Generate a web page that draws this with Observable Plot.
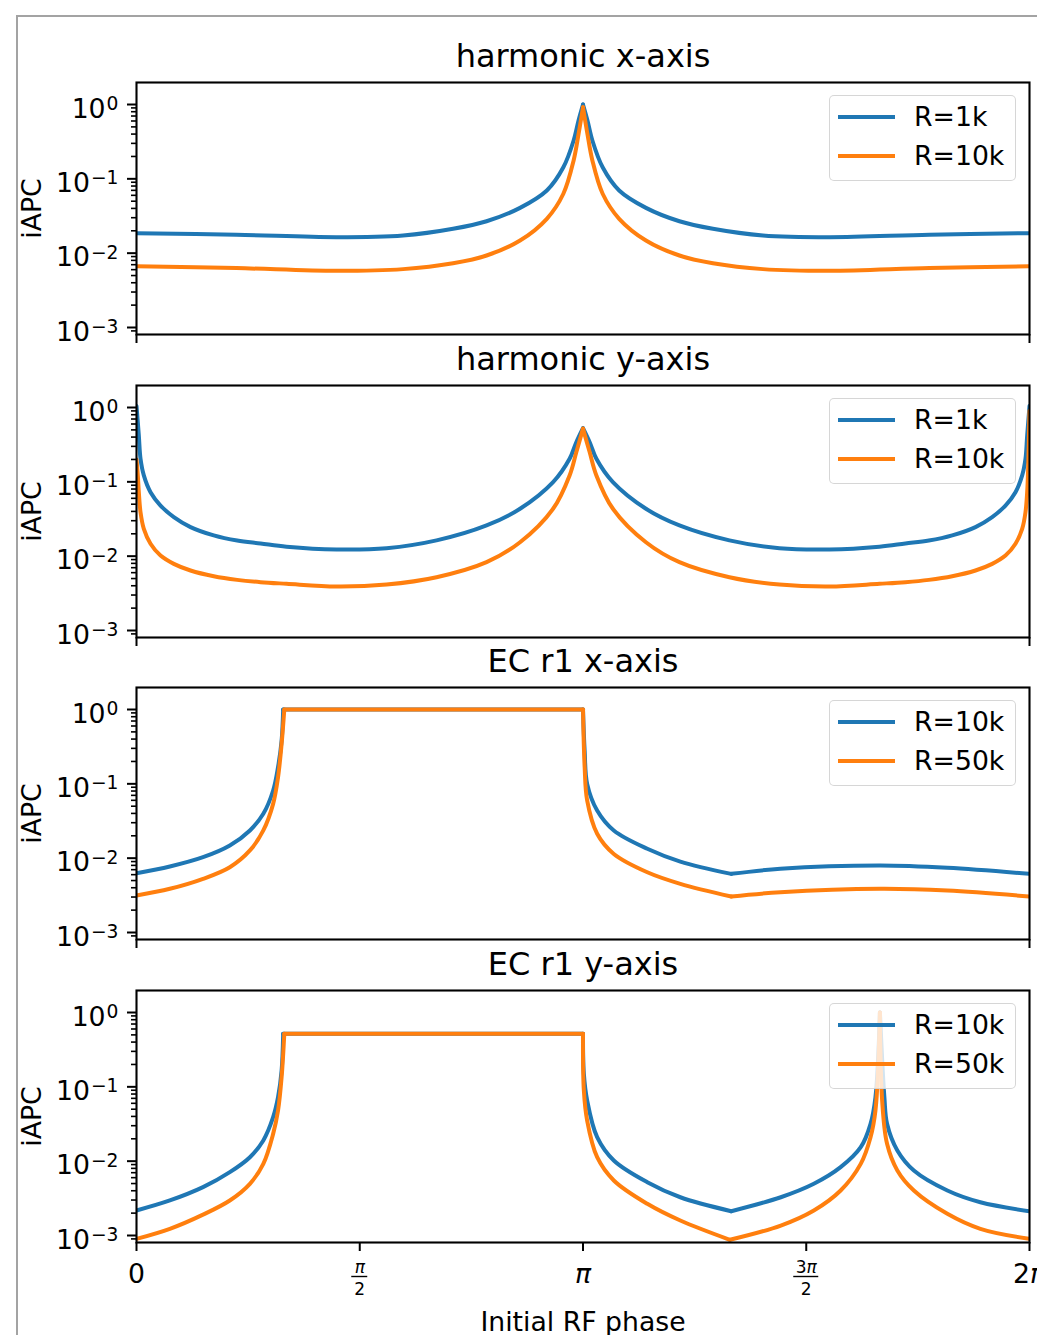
<!DOCTYPE html>
<html>
<head>
<meta charset="utf-8">
<script src="https://cdn.jsdelivr.net/npm/d3@7"></script>
<script src="https://cdn.jsdelivr.net/npm/@observablehq/plot@0.6"></script>
<style>
  html, body { margin: 0; padding: 0; background: #fff; }
  #fig { position: relative; width: 1037px; height: 1335px; overflow: hidden; background: #fff; font-family: "DejaVu Sans"; }
  #border { position: absolute; left: 16px; top: 15px; width: 1300px; height: 1600px; border-left: 2px solid #a3a3a3; border-top: 2px solid #a3a3a3; }
  .panel { position: absolute; left: 0; }
  .legend { position: absolute; left: 829px; width: 187px; height: 86px; box-sizing: border-box;
            border: 1.5px solid rgba(204,204,204,0.8); border-radius: 5px; background: rgba(255,255,255,0.8); }
  .row { position: absolute; left: 0; width: 100%; height: 30px; }
  .swatch { position: absolute; left: 8px; top: 13px; width: 57px; height: 4px; }
  .lab { position: absolute; left: 84px; top: 0; height: 30px; line-height: 30px; font-size: 26.7px; color: #000; white-space: nowrap; }
</style>
</head>
<body>
<div id="fig"><div id="border"></div></div>
<script>
// ---------- data (x in units of π, y = iAPC) ----------
const xTicks = [0, 0.5, 1, 1.5, 2];
const xTickPlain = [{v: 0, t: "0"}, {v: 1, t: "π"}, {v: 2, t: "2π"}];
const xTickFrac = [{v: 0.5, num: "π", den: "2"}, {v: 1.5, num: "3π", den: "2"}];
const yMajor = [1, 0.1, 0.01, 0.001];
const yMajorExp = ["0", "−1", "−2", "−3"];
const yMinor = [0.0009, 0.002, 0.003, 0.004, 0.005, 0.006, 0.007, 0.008, 0.009,
                0.02, 0.03, 0.04, 0.05, 0.06, 0.07, 0.08, 0.09,
                0.2, 0.3, 0.4, 0.5, 0.6, 0.7, 0.8, 0.9];
const yDomain = [0.000805, 1.977];

const titles = ["harmonic x-axis", "harmonic y-axis", "EC r1 x-axis", "EC r1 y-axis"];
const legendLabels = [["R=1k", "R=10k"], ["R=1k", "R=10k"], ["R=10k", "R=50k"], ["R=10k", "R=50k"]];

// harmonic x-axis
const hxR1k = [
  [[0,0.0186],[0.224,0.0177],[0.448,0.0164],[0.597,0.0173],[0.709,0.0213],[0.784,0.0269],[0.859,0.0407],[0.919,0.0697],[0.956,0.143],[0.979,0.328],[0.990,0.61],[1,1.0]],
  [[1,1.0],[1.010,0.61],[1.021,0.328],[1.044,0.143],[1.081,0.0697],[1.141,0.0407],[1.216,0.0269],[1.291,0.0213],[1.403,0.0173],[1.552,0.0164],[1.776,0.0177],[2,0.0186]]
];
const hxR10k = [
  [[0,0.00668],[0.224,0.0063],[0.448,0.00578],[0.597,0.0061],[0.709,0.00733],[0.784,0.0093],[0.859,0.0148],[0.919,0.029],[0.956,0.063],[0.979,0.177],[0.990,0.40],[1,0.92]],
  [[1,0.92],[1.010,0.40],[1.021,0.177],[1.044,0.063],[1.081,0.029],[1.141,0.0148],[1.216,0.0093],[1.291,0.00733],[1.403,0.0061],[1.552,0.00578],[1.776,0.0063],[2,0.00668]]
];
// harmonic y-axis
const hyR1k = [
  [[0,1.05],[0.0052,0.42],[0.009,0.204],[0.0164,0.122],[0.0314,0.0726],[0.0538,0.048],[0.0836,0.0335],[0.121,0.0246],[0.173,0.019],[0.2255,0.0162],[0.278,0.0148],[0.336,0.0134],[0.448,0.0123],[0.560,0.0128],[0.672,0.0163],[0.784,0.0259],[0.859,0.0434],[0.933,0.099],[0.970,0.204],[0.985,0.341],[1,0.527]],
  [[1,0.527],[1.015,0.341],[1.030,0.204],[1.067,0.099],[1.141,0.0434],[1.216,0.0259],[1.328,0.0163],[1.440,0.0128],[1.552,0.0123],[1.664,0.0134],[1.722,0.0148],[1.7745,0.0162],[1.827,0.019],[1.879,0.0246],[1.9164,0.0335],[1.9462,0.048],[1.9686,0.0726],[1.9836,0.122],[1.991,0.204],[1.9948,0.42],[2,1.05]]
];
const hyR10k = [
  [[0,0.2],[0.003,0.12],[0.0052,0.0726],[0.009,0.039],[0.0164,0.0233],[0.0314,0.0147],[0.0538,0.0102],[0.0836,0.00788],[0.121,0.00641],[0.173,0.00537],[0.2255,0.0048],[0.278,0.00447],[0.336,0.00425],[0.448,0.0039],[0.560,0.00415],[0.672,0.00521],[0.784,0.0083],[0.859,0.0154],[0.933,0.0434],[0.970,0.122],[0.985,0.25],[1,0.52]],
  [[1,0.52],[1.015,0.25],[1.030,0.122],[1.067,0.0434],[1.141,0.0154],[1.216,0.0083],[1.328,0.00521],[1.440,0.00415],[1.552,0.0039],[1.664,0.00425],[1.722,0.00447],[1.7745,0.0048],[1.827,0.00537],[1.879,0.00641],[1.9164,0.00788],[1.9462,0.0102],[1.9686,0.0147],[1.9836,0.0233],[1.991,0.039],[1.9948,0.0726],[1.997,0.15],[2,0.9]]
];
// EC r1 x-axis
const ecxR10k = [
  [[0,0.00628],[0.0747,0.00772],[0.149,0.0103],[0.209,0.0148],[0.254,0.0236],[0.284,0.0395],[0.306,0.0813],[0.317,0.168],[0.325,0.383],[0.3285,1.0]],
  [[0.3285,1.0],[1,1.0]],
  [[1,1.0],[1.0037,0.28],[1.0093,0.1],[1.0317,0.0438],[1.069,0.0236],[1.144,0.0134],[1.218,0.009],[1.332,0.00615]],
  [[1.332,0.00615],[1.442,0.0072],[1.666,0.00797],[1.816,0.00742],[2,0.00615]]
];
const ecxR50k = [
  [[0,0.00315],[0.0747,0.00387],[0.149,0.00527],[0.209,0.00755],[0.254,0.0127],[0.284,0.0236],[0.306,0.0538],[0.317,0.123],[0.325,0.346],[0.331,1.0]],
  [[0.331,1.0],[1,1.0]],
  [[1,1.0],[1.0037,0.168],[1.0093,0.0597],[1.0317,0.0213],[1.069,0.0114],[1.144,0.00647],[1.218,0.00452],[1.332,0.00305]],
  [[1.332,0.00305],[1.442,0.00348],[1.666,0.00387],[1.816,0.00367],[2,0.00305]]
];
// EC r1 y-axis
const ecyR10k = [
  [[0,0.00217],[0.0747,0.00296],[0.149,0.00447],[0.209,0.00711],[0.254,0.0113],[0.284,0.019],[0.306,0.039],[0.317,0.0725],[0.325,0.166],[0.3285,0.516]],
  [[0.3285,0.516],[1,0.516]],
  [[1,0.516],[1.0019,0.15],[1.0093,0.0655],[1.0317,0.021],[1.069,0.0102],[1.144,0.00521],[1.218,0.00327],[1.332,0.00212]],
  [[1.332,0.00212],[1.443,0.00327],[1.517,0.00496],[1.577,0.0083],[1.622,0.0154],[1.644,0.0318],[1.655,0.0725],[1.665,1.0]],
  [[1.665,1.0],[1.675,0.0725],[1.681,0.0318],[1.704,0.0139],[1.741,0.00748],[1.816,0.00403],[1.890,0.0028],[2,0.00212]]
];
const ecyR50k = [
  [[0,0.0009],[0.0747,0.00123],[0.149,0.00191],[0.209,0.00296],[0.254,0.00496],[0.284,0.0092],[0.306,0.0233],[0.317,0.048],[0.325,0.135],[0.331,0.516]],
  [[0.331,0.516],[1,0.516]],
  [[1,0.516],[1.0019,0.0893],[1.0093,0.0352],[1.0317,0.0113],[1.069,0.0055],[1.144,0.00267],[1.218,0.00159],[1.329,0.000875]],
  [[1.329,0.000875],[1.443,0.00136],[1.517,0.00217],[1.577,0.00403],[1.622,0.0092],[1.644,0.021],[1.655,0.048],[1.665,1.0]],
  [[1.665,1.0],[1.670,0.0655],[1.681,0.0171],[1.704,0.0075],[1.741,0.00403],[1.816,0.00196],[1.890,0.00123],[2,0.0009]]
];

const seriesByPanel = [[hxR1k, hxR10k], [hyR1k, hyR10k], [ecxR10k, ecxR50k], [ecyR10k, ecyR50k]];

// ---------- styling / layout ----------
const colors = ["#1f77b4", "#ff7f0e"];
const frameTops = [82, 385, 687, 990];
const frameH = 252, mTop = 50, mLeft = 136, mRight = 8;
const FS = 26.7;

function toRows(branches) {
  const rows = [];
  branches.forEach((b, bi) => b.forEach(([x, y]) => rows.push({x, y, z: bi})));
  return rows;
}

function decorate(svg) {
  const s = d3.select(svg);
  s.selectAll('g[aria-label="y-axis tick label"] text').each(function () {
    const e = this.textContent;
    if (!e) return;
    const t = d3.select(this).attr("dy", null).text(null);
    t.append("tspan").attr("dy", 4.5).text("10");
    t.append("tspan").attr("dy", -7.6).attr("dx", 1).attr("font-size", 18.7).text(e);
  });
  s.selectAll("text").each(function () {
    if (this.querySelector("tspan")) return;
    const str = this.textContent;
    if (!str.includes("π")) return;
    const t = d3.select(this).text(null);
    for (const part of str.split(/(π)/)) {
      if (!part) continue;
      const sp = t.append("tspan").text(part);
      if (part === "π") sp.attr("font-style", "italic");
    }
  });
}

const fig = document.getElementById("fig");

seriesByPanel.forEach((series, i) => {
  const last = i === 3;
  const mBottom = last ? 96 : 12;
  const marks = [
    Plot.axisY({ticks: yMinor, tickSize: 5, strokeWidth: 1.6, tickFormat: () => "", label: null}),
    Plot.axisY({ticks: yMajor, tickSize: 9, strokeWidth: 2, tickPadding: 9, fontSize: FS,
                tickFormat: d => yMajorExp[yMajor.indexOf(d)], label: null}),
    Plot.axisX({ticks: last ? xTicks : [xTicks[0], xTicks[4]], tickSize: 9, strokeWidth: 2,
                tickFormat: () => "", label: null})
  ];
  series.forEach((branches, si) => {
    marks.push(Plot.line(toRows(branches), {x: "x", y: "y", z: "z", stroke: colors[si], strokeWidth: 4,
                                             curve: "catmull-rom", clip: true}));
  });
  marks.push(Plot.frame({stroke: "black", strokeWidth: 2.1}));
  marks.push(Plot.text([titles[i]], {text: d => d, frameAnchor: "top", dy: -16, lineAnchor: "bottom", fontSize: 32}));
  marks.push(Plot.text(["iAPC"], {text: d => d, frameAnchor: "left", textAnchor: "middle", dx: -104, rotate: -90, fontSize: FS}));
  if (last) {
    marks.push(Plot.text(xTickPlain, {x: "v", text: "t", frameAnchor: "bottom", dy: 40, lineAnchor: "bottom", fontSize: FS}));
    marks.push(Plot.text(xTickFrac, {x: "v", text: "num", frameAnchor: "bottom", dy: 30.5, lineAnchor: "bottom", fontSize: 17}));
    marks.push(Plot.text(xTickFrac, {x: "v", text: "den", frameAnchor: "bottom", dy: 52, lineAnchor: "bottom", fontSize: 17}));
    marks.push(Plot.text(["Initial RF phase"], {text: d => d, frameAnchor: "bottom", dy: 88, lineAnchor: "bottom", fontSize: FS}));
  }
  const svg = Plot.plot({
    width: 1037,
    height: mTop + frameH + mBottom,
    marginTop: mTop, marginBottom: mBottom, marginLeft: mLeft, marginRight: mRight,
    x: {domain: [0, 2]},
    y: {type: "log", domain: yDomain},
    style: {fontFamily: "DejaVu Sans", fontSize: FS + "px", background: "transparent", overflow: "visible", color: "black"},
    marks
  });
  decorate(svg);
  if (last) {
    // fraction bars of the π/2 and 3π/2 tick labels, placed with the plot's x scale
    const xs = svg.scale("x");
    const yb = mTop + frameH + 34.5;
    const g = d3.select(svg).append("g").attr("aria-label", "fraction bars");
    xTickFrac.forEach(d => {
      const cx = xs.apply(d.v);
      const w = d.num.length > 1 ? 25 : 16;
      g.append("line").attr("x1", cx - w / 2).attr("x2", cx + w / 2).attr("y1", yb).attr("y2", yb)
        .attr("stroke", "black").attr("stroke-width", 1.4);
    });
  }
  const wrap = document.createElement("div");
  wrap.className = "panel";
  wrap.style.top = (frameTops[i] - mTop) + "px";
  wrap.appendChild(svg);
  fig.appendChild(wrap);

  // legend (drawn above the plot, semi-transparent like the original)
  const lg = document.createElement("div");
  lg.className = "legend";
  lg.style.top = (frameTops[i] + 13) + "px";
  legendLabels[i].forEach((lab, k) => {
    const row = document.createElement("div");
    row.className = "row";
    row.style.top = (k === 0 ? 6 : 45) + "px";
    const sw = document.createElement("div");
    sw.className = "swatch";
    sw.style.background = colors[k];
    const tx = document.createElement("div");
    tx.className = "lab";
    tx.textContent = lab;
    row.appendChild(sw); row.appendChild(tx);
    lg.appendChild(row);
  });
  fig.appendChild(lg);
});
</script>
</body>
</html>
